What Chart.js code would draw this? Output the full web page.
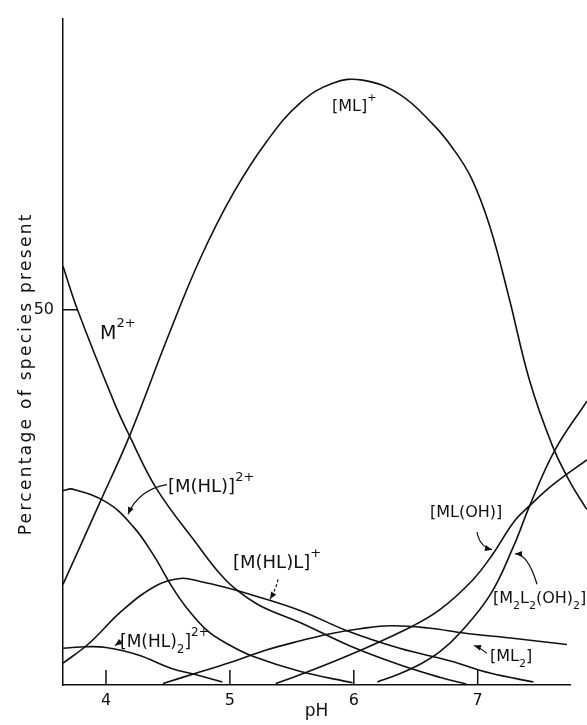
<!DOCTYPE html>
<html>
<head>
<meta charset="utf-8">
<script src="https://cdn.jsdelivr.net/npm/chart.js@4.4.1/dist/chart.umd.min.js"></script>
<style>
  html, body { margin: 0; padding: 0; background: #fff; }
  #wrap { width: 587px; height: 725px; position: relative; }
</style>
</head>
<body>
<div id="wrap"><canvas id="myChart"></canvas></div>
<script>
// species distribution: pH vs % of metal present
const phML = [3.653, 3.95, 4.19, 4.5, 4.76, 5.03, 5.3, 5.57, 5.83, 6.07, 6.37, 6.64, 6.8, 6.95, 7.1, 7.25, 7.42, 7.6, 7.74, 7.88];
const pctML = [13.4, 24.3, 33.2, 46.4, 56.8, 65.6, 72.5, 77.6, 80.2, 80.6, 78.7, 74.7, 71.5, 67.5, 61.0, 51.8, 40.5, 32.0, 27.2, 23.4];

const phM = [3.653, 3.77, 4.07, 4.19, 4.41, 4.76, 4.9, 5.03, 5.24, 5.57, 5.97, 6.37, 6.70, 6.91];
const pctM = [55.8, 50.0, 37.5, 33.2, 26.1, 18.2, 15.2, 13.0, 10.6, 8.3, 5.2, 2.7, 1.0, 0.1];

const phMHL = [3.653, 3.73, 4.01, 4.22, 4.38, 4.54, 4.65, 4.82, 5.00, 5.19, 5.57, 5.99];
const pctMHL = [25.9, 26.1, 24.3, 21.1, 17.4, 12.9, 10.3, 7.2, 5.3, 3.8, 1.8, 0.3];

const phMHLL = [3.653, 3.86, 4.13, 4.40, 4.60, 4.76, 4.99, 5.16, 5.57, 5.95, 6.37, 6.78, 7.10, 7.45];
const pctMHLL = [2.9, 5.5, 9.9, 13.2, 14.2, 13.8, 12.9, 12.1, 9.9, 7.2, 4.9, 3.2, 1.6, 0.4];

const phMHL2 = [3.653, 3.85, 4.00, 4.26, 4.53, 4.72, 4.94];
const pctMHL2 = [4.9, 5.1, 5.0, 4.0, 2.2, 1.4, 0.4];

const phML2 = [4.46, 4.75, 5.04, 5.30, 5.57, 5.80, 6.05, 6.30, 6.60, 6.90, 7.30, 7.72];
const pctML2 = [0.2, 1.7, 3.2, 4.7, 5.9, 6.8, 7.5, 7.9, 7.6, 6.9, 6.2, 5.4];

const phMLOH = [5.37, 5.62, 6.05, 6.48, 6.70, 6.96, 7.12, 7.29, 7.42, 7.60, 7.88];
const pctMLOH = [0.2, 1.7, 4.6, 7.9, 10.1, 14.0, 17.4, 21.7, 23.9, 26.6, 30.0];

const phM2L2 = [6.19, 6.37, 6.55, 6.70, 6.86, 7.10, 7.29, 7.42, 7.62, 7.88];
const pctM2L2 = [0.4, 1.5, 2.9, 4.5, 7.0, 12.0, 18.5, 23.9, 31.2, 37.8];

const xTicks = [4, 5, 6, 7];
const yTicks = [50];

const ink = "#111";
const fam = '"DejaVu Sans", sans-serif';

function pts(xs, ys) {
  return xs.map((x, i) => ({ x: x, y: ys[i] }));
}

const series = [
  ["[ML]+", phML, pctML],
  ["M2+", phM, pctM],
  ["[M(HL)]2+", phMHL, pctMHL],
  ["[M(HL)L]+", phMHLL, pctMHLL],
  ["[M(HL)2]2+", phMHL2, pctMHL2],
  ["[ML2]", phML2, pctML2],
  ["[ML(OH)]", phMLOH, pctMLOH],
  ["[M2L2(OH)2]", phM2L2, pctM2L2],
];

// curve labels, anchored in data units (left edge, vertical middle)
const notes = [
  { at: [5.824, 77.0], size: 16, parts: [["[ML]"], ["+", "sup"]] },
  { at: [3.952, 46.8], size: 19, parts: [["M"], ["2+", "sup"]] },
  { at: [4.50, 26.3], size: 18, parts: [["[M(HL)]"], ["2+", "sup"]] },
  { at: [5.025, 16.2], size: 18, parts: [["[M(HL)L]"], ["+", "sup"]] },
  { at: [4.113, 5.66], size: 17, parts: [["[M(HL)"], ["2", "sub"], ["]"], ["2+", "sup"]] },
  { at: [6.615, 22.9], size: 16, parts: [["[ML(OH)]"]] },
  { at: [7.123, 11.5], size: 16, parts: [["[M"], ["2", "sub"], ["L"], ["2", "sub"], ["(OH)"], ["2", "sub"], ["]"]] },
  { at: [7.099, 3.8], size: 16, parts: [["[ML"], ["2", "sub"], ["]"]] },
];

// pointer arrows: start, middle, tip (data units)
const arrows = [
  { p: [[4.492, 26.71], [4.299, 25.39], [4.178, 22.76]] },
  { p: [[5.388, 14.08], [5.364, 12.76], [5.324, 11.45]], dash: true },
  { p: [[4.129, 5.92], [4.101, 5.59], [4.073, 5.26]] },
  { p: [[6.994, 20.39], [7.035, 18.82], [7.115, 18.03]] },
  { p: [[7.479, 13.42], [7.398, 16.45], [7.301, 17.5]] },
  { p: [[7.075, 4.21], [7.019, 4.87], [6.970, 5.26]] },
];

function richText(ctx, x, y, parts, size) {
  let cx = x;
  parts.forEach(([t, kind]) => {
    const s = kind ? Math.round(size * 0.7) : size;
    ctx.font = s + "px " + fam;
    let dy = 0;
    if (kind === "sup") dy = -size * 0.55;
    if (kind === "sub") dy = size * 0.45;
    ctx.fillText(t, cx, y + dy);
    cx += ctx.measureText(t).width;
  });
}

const extras = {
  id: "extras",
  afterDraw(chart) {
    const { ctx, chartArea, scales } = chart;
    const sx = scales.x, sy = scales.y;
    const X = v => sx.getPixelForValue(v);
    const Y = v => sy.getPixelForValue(v);
    ctx.save();
    ctx.strokeStyle = ink;
    ctx.fillStyle = ink;
    ctx.lineWidth = 1.5;

    // tick marks point into the plot
    ctx.beginPath();
    xTicks.forEach(v => {
      ctx.moveTo(X(v), chartArea.bottom);
      ctx.lineTo(X(v), chartArea.bottom - 15);
    });
    yTicks.forEach(v => {
      ctx.moveTo(chartArea.left, Y(v));
      ctx.lineTo(chartArea.left + 15, Y(v));
    });
    ctx.stroke();

    // labels
    ctx.textBaseline = "middle";
    ctx.textAlign = "left";
    notes.forEach(n => richText(ctx, X(n.at[0]), Y(n.at[1]), n.parts, n.size));

    // arrows
    ctx.lineWidth = 1.2;
    arrows.forEach(a => {
      const [s, m, e] = a.p.map(q => [X(q[0]), Y(q[1])]);
      const c = [2 * m[0] - (s[0] + e[0]) / 2, 2 * m[1] - (s[1] + e[1]) / 2];
      ctx.setLineDash(a.dash ? [3, 2] : []);
      ctx.beginPath();
      ctx.moveTo(s[0], s[1]);
      ctx.quadraticCurveTo(c[0], c[1], e[0], e[1]);
      ctx.stroke();
      ctx.setLineDash([]);
      const ang = Math.atan2(e[1] - c[1], e[0] - c[0]);
      ctx.beginPath();
      ctx.moveTo(e[0], e[1]);
      ctx.lineTo(e[0] - 7 * Math.cos(ang) + 3 * Math.sin(ang), e[1] - 7 * Math.sin(ang) - 3 * Math.cos(ang));
      ctx.lineTo(e[0] - 7 * Math.cos(ang) - 3 * Math.sin(ang), e[1] - 7 * Math.sin(ang) + 3 * Math.cos(ang));
      ctx.closePath();
      ctx.fill();
    });

    // y axis title, spaced out like the original
    ctx.translate(26.5, (chartArea.top + chartArea.bottom) / 2 + 22);
    ctx.rotate(-Math.PI / 2);
    ctx.font = "17px " + fam;
    ctx.letterSpacing = "2.3px";
    ctx.textAlign = "center";
    ctx.fillText("Percentage of species present", 0, 0);
    ctx.restore();
  }
};

const ctx = document.getElementById("myChart").getContext("2d");
const myChart = new Chart(ctx, {
  type: "line",
  data: {
    datasets: series.map(([label, xs, ys]) => ({
      label: label,
      data: pts(xs, ys),
      borderColor: ink,
      borderWidth: 1.6,
      pointRadius: 0,
      fill: false,
      tension: 0.4,
      clip: false,
    })),
  },
  options: {
    responsive: true,
    maintainAspectRatio: false,
    animation: false,
    layout: { padding: { top: 10, right: 17, left: 0, bottom: 0 } },
    plugins: { legend: { display: false }, tooltip: { enabled: false } },
    scales: {
      x: {
        type: "linear",
        min: 3.653,
        max: 7.745,
        afterBuildTicks: axis => { axis.ticks = xTicks.map(v => ({ value: v })); },
        afterFit: axis => { axis.height = 40; },
        grid: { display: false, drawTicks: false },
        border: { color: ink, width: 1.5 },
        ticks: { color: ink, padding: 6, maxRotation: 0, font: { family: fam, size: 16 } },
        title: { display: true, text: "pH", color: ink, font: { family: fam, size: 17 }, padding: { top: 0, bottom: 3 } },
      },
      y: {
        type: "linear",
        min: 0,
        max: 88.8,
        afterBuildTicks: axis => { axis.ticks = yTicks.map(v => ({ value: v })); },
        afterFit: axis => { axis.width = 63; },
        grid: { display: false, drawTicks: false },
        border: { color: ink, width: 1.5 },
        ticks: { color: ink, padding: 9, font: { family: fam, size: 16 } },
      },
    },
  },
  plugins: [extras],
});
</script>
</body>
</html>
